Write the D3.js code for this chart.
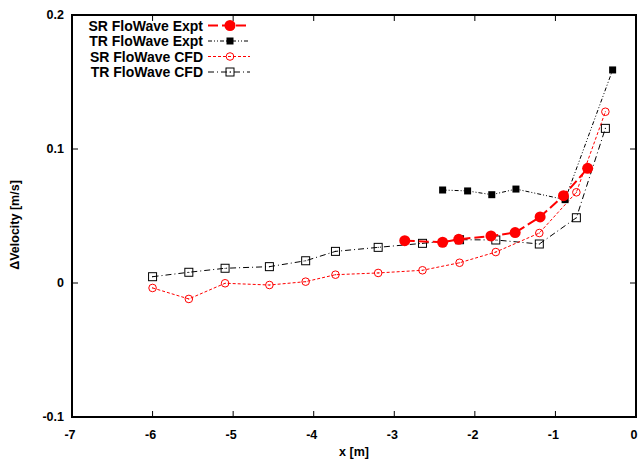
<!DOCTYPE html>
<html>
<head>
<meta charset="utf-8">
<script src="https://d3js.org/d3.v7.min.js"></script>
<style>
  body { margin: 0; background: white; }
  text { font-family: "Liberation Sans", Arial, sans-serif; font-weight: bold; font-size: 12.5px; }
  .legend text { font-size: 14px; }
</style>
</head>
<body>
<div id="chart"></div>
<script>
// ---------- data ----------
var srExptX = [-2.87, -2.40, -2.20, -1.80, -1.50, -1.19, -0.90, -0.60];
var srExptY = [0.0316, 0.0304, 0.0326, 0.0351, 0.0376, 0.0493, 0.0652, 0.0856];

var trExptX = [-2.40, -2.09, -1.79, -1.49, -0.88, -0.29];
var trExptY = [0.0694, 0.0687, 0.0659, 0.0701, 0.0622, 0.159];

var cfdX = [-6.00, -5.55, -5.10, -4.55, -4.10, -3.73, -3.20, -2.65, -2.19, -1.74, -1.20, -0.74, -0.38];
var srCfdY = [-0.0037, -0.0119, -0.0002, -0.0015, 0.0010, 0.0062, 0.0075, 0.0095, 0.0151, 0.0231, 0.0373, 0.0677, 0.1278];
var trCfdY = [0.0047, 0.0080, 0.0110, 0.0122, 0.0166, 0.0236, 0.0266, 0.0296, 0.0323, 0.0321, 0.0291, 0.0487, 0.1154];

var xTicks = [-7, -6, -5, -4, -3, -2, -1, 0];
var yTicks = [-0.1, 0, 0.1, 0.2];

var width = 640, height = 463;
var mLeft = 72, mRight = 636, mTop = 15, mBottom = 417;

var x = d3.scaleLinear().domain([-7, 0]).range([mLeft, mRight]);
var y = d3.scaleLinear().domain([-0.1, 0.2]).range([mBottom, mTop]);

var svg = d3.select('#chart').append('svg')
  .attr('width', width)
  .attr('height', height);

function zip(xs, ys) {
  return ys.map(function(v, i) { return [xs[i], v]; });
}

var series = [
  { name: 'SR FloWave Expt', pts: zip(srExptX, srExptY), color: '#ff0000', width: 2, dash: '10,4', marker: 'dot' },
  { name: 'TR FloWave Expt', pts: zip(trExptX, trExptY), color: '#000000', width: 1, dash: '4,2,1,2,1,2', marker: 'fsq' },
  { name: 'SR FloWave CFD', pts: zip(cfdX, srCfdY), color: '#ff0000', width: 1, dash: '3,2', marker: 'ocirc' },
  { name: 'TR FloWave CFD', pts: zip(cfdX, trCfdY), color: '#000000', width: 1, dash: '6,3,1,3', marker: 'osq' }
];

// ticks (mirrored, inward)
var axes = svg.append('g');
xTicks.forEach(function(t) {
  axes.append('line').attr('x1', x(t)).attr('x2', x(t)).attr('y1', mBottom).attr('y2', mBottom - 6)
    .attr('stroke', 'black').attr('stroke-width', 1);
  axes.append('line').attr('x1', x(t)).attr('x2', x(t)).attr('y1', mTop).attr('y2', mTop + 6)
    .attr('stroke', 'black').attr('stroke-width', 1);
  axes.append('text').attr('x', x(t) - 2).attr('y', mBottom + 22).attr('text-anchor', 'middle')
    .text(String(t));
});
yTicks.forEach(function(t) {
  axes.append('line').attr('x1', mLeft).attr('x2', mLeft + 6).attr('y1', y(t)).attr('y2', y(t))
    .attr('stroke', 'black').attr('stroke-width', 1);
  axes.append('line').attr('x1', mRight).attr('x2', mRight - 6).attr('y1', y(t)).attr('y2', y(t))
    .attr('stroke', 'black').attr('stroke-width', 1);
  axes.append('text').attr('x', mLeft - 8).attr('y', y(t) + 4).attr('text-anchor', 'end')
    .text(t === 0 ? '0' : t.toFixed(1));
});

var line = d3.line().x(function(d) { return x(d[0]); }).y(function(d) { return y(d[1]); });

function marker(g, s, cx, cy) {
  if (s.marker === 'dot') {
    g.append('circle').attr('cx', cx).attr('cy', cy).attr('r', 5.5).attr('fill', s.color);
  } else if (s.marker === 'fsq') {
    g.append('rect').attr('x', cx - 3.5).attr('y', cy - 3.5).attr('width', 7).attr('height', 7).attr('fill', s.color);
  } else if (s.marker === 'ocirc') {
    g.append('circle').attr('cx', cx).attr('cy', cy).attr('r', 3.8).attr('fill', 'none')
      .attr('stroke', s.color).attr('stroke-width', 1);
    g.append('circle').attr('cx', cx).attr('cy', cy).attr('r', 0.6).attr('fill', s.color);
  } else {
    g.append('rect').attr('x', cx - 4).attr('y', cy - 4).attr('width', 8).attr('height', 8).attr('fill', 'none')
      .attr('stroke', s.color).attr('stroke-width', 1);
    g.append('circle').attr('cx', cx).attr('cy', cy).attr('r', 0.6).attr('fill', s.color);
  }
}

// draw CFD first, experiments on top
[3, 2, 1, 0].forEach(function(i) {
  var s = series[i];
  var g = svg.append('g');
  g.append('path').attr('d', line(s.pts)).attr('fill', 'none')
    .attr('stroke', s.color).attr('stroke-width', s.width).attr('stroke-dasharray', s.dash);
  s.pts.forEach(function(p) { marker(g, s, x(p[0]), y(p[1])); });
});

// legend
var legend = svg.append('g').attr('class', 'legend');
series.forEach(function(s, i) {
  var ly = 25.5 + 15.5 * i;
  var g = legend.append('g');
  g.append('text').attr('x', 203).attr('y', ly + 5).attr('text-anchor', 'end').text(s.name);
  g.append('line').attr('x1', 208).attr('x2', 250).attr('y1', ly).attr('y2', ly)
    .attr('stroke', s.color).attr('stroke-width', s.width).attr('stroke-dasharray', s.dash);
  marker(g, s, 230, ly);
});

// border
svg.append('rect').attr('x', mLeft).attr('y', mTop).attr('width', mRight - mLeft).attr('height', mBottom - mTop)
  .attr('fill', 'none').attr('stroke', 'black').attr('stroke-width', 2);

// axis labels
svg.append('text').attr('x', (mLeft + mRight) / 2).attr('y', 456).attr('text-anchor', 'middle').text('x [m]');
svg.append('text').attr('transform', 'translate(19,225) rotate(-90)')
  .attr('text-anchor', 'middle').text('\u0394Velocity [m/s]');
</script>
</body>
</html>
